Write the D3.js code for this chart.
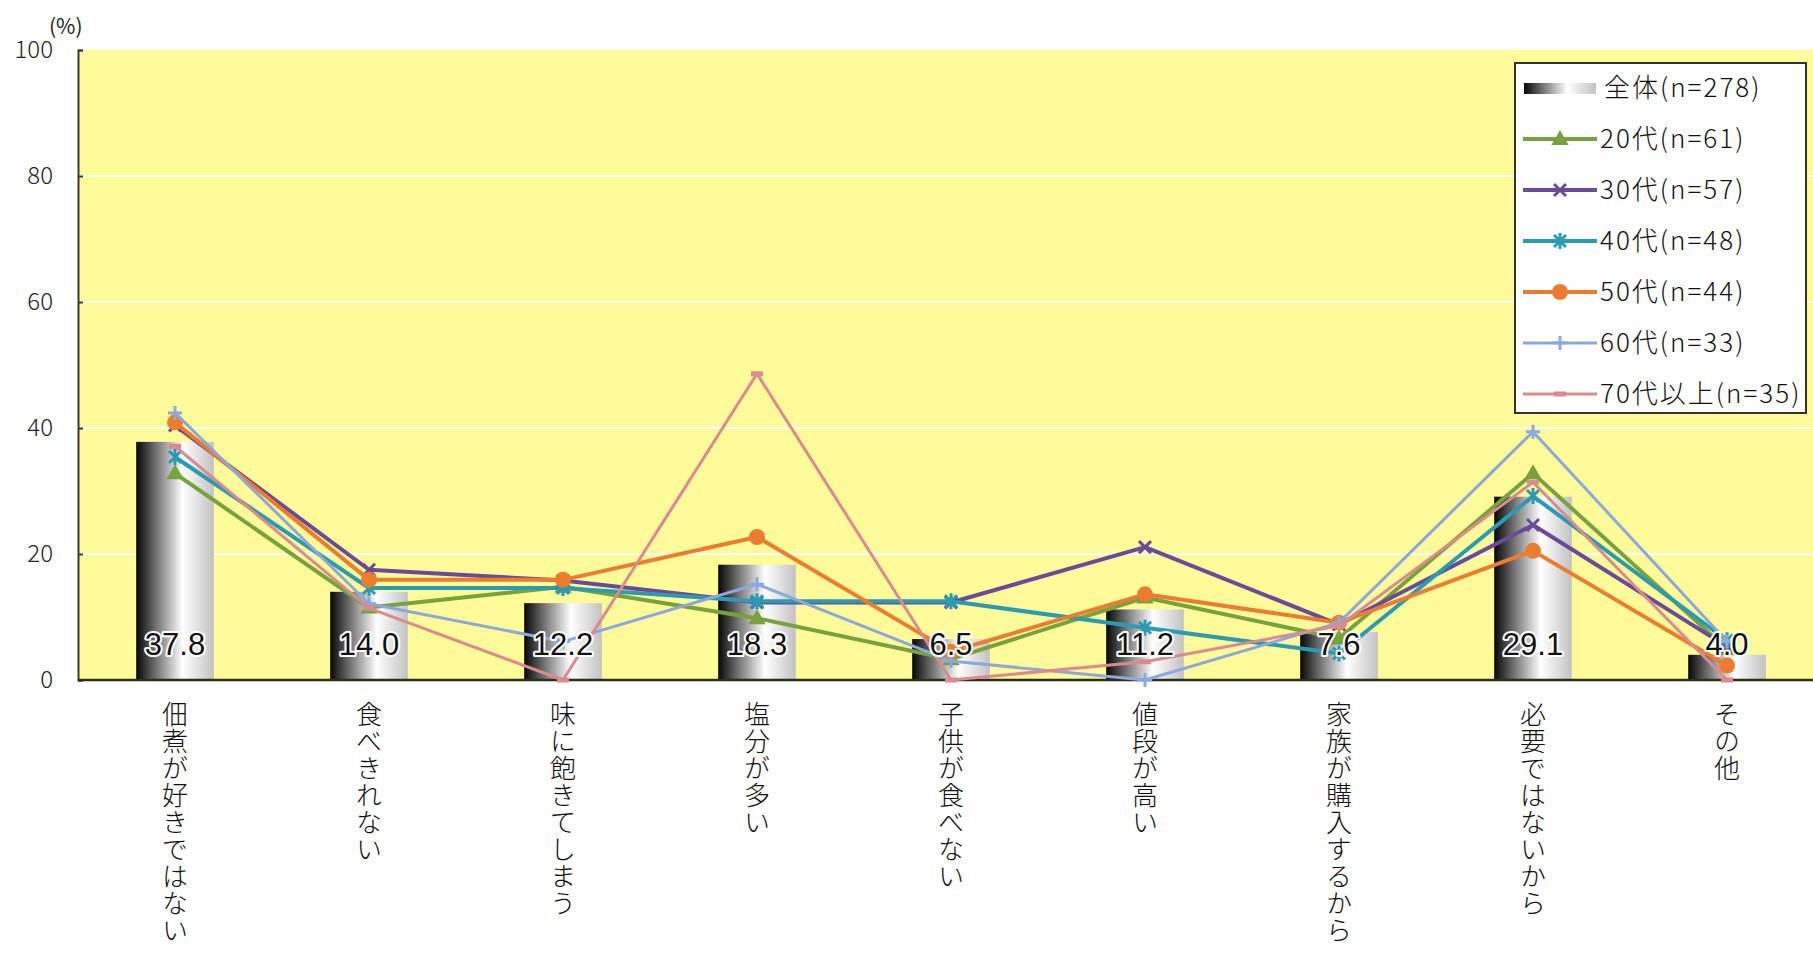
<!DOCTYPE html>
<html>
<head>
<meta charset="utf-8">
<script src="https://cdn.jsdelivr.net/npm/d3@7"></script>
<style>
  html, body { margin: 0; padding: 0; background: #ffffff; }
  svg { display: block; }
</style>
</head>
<body>
<svg id="chart" width="1813" height="956"></svg>
<script>
// Reasons for not buying tsukudani, by age group (%)
const categories = ["佃煮が好きではない", "食べきれない", "味に飽きてしまう", "塩分が多い",
  "子供が食べない", "値段が高い", "家族が購入するから", "必要ではないから", "その他"];

const totalValues = [37.8, 14.0, 12.2, 18.3, 6.5, 11.2, 7.6, 29.1, 4.0];
const age20 = [32.8, 11.5, 14.8, 9.8, 3.3, 13.1, 6.6, 32.8, 4.9];
const age30 = [40.4, 17.5, 15.8, 12.3, 12.3, 21.1, 8.8, 24.6, 5.3];
const age40 = [35.4, 14.6, 14.6, 12.5, 12.5, 8.3, 4.2, 29.2, 6.3];
const age50 = [40.9, 15.9, 15.9, 22.7, 4.5, 13.6, 9.1, 20.5, 2.3];
const age60 = [42.4, 12.1, 6.1, 15.2, 3.0, 0.0, 9.1, 39.4, 6.1];
const age70 = [37.1, 11.4, 0.0, 48.6, 0.0, 2.9, 8.6, 31.4, 0.0];

const totalLabel = "全体(n=278)";
const seriesLabels = ["20代(n=61)", "30代(n=57)", "40代(n=48)", "50代(n=44)", "60代(n=33)", "70代以上(n=35)"];
const seriesValues = [age20, age30, age40, age50, age60, age70];
const seriesColors = ["#78a23e", "#6a4a9b", "#2b9bb4", "#ec7d2f", "#8ea7dc", "#d98b8f"];
const seriesWidths = [4, 4, 4, 4, 3, 3];
const seriesMarkers = ["triangle", "cross", "asterisk", "circle", "plus", "dash"];

const yTicks = [0, 20, 40, 60, 80, 100];

const svg = d3.select("#chart");
const plot = { left: 78, top: 50, bottom: 680, right: 1824 };

const x = d3.scaleBand().domain(categories).range([plot.left, plot.right]).padding(0);
const y = d3.scaleLinear().domain([0, 100]).range([plot.bottom, plot.top]);
const cx = c => x(c) + x.bandwidth() / 2;

// gradient for the overall bars
const defs = svg.append("defs");
const grad = defs.append("linearGradient").attr("id", "barShade")
  .attr("x1", 0).attr("x2", 1).attr("y1", 0).attr("y2", 0);
[[0, "#050505"], [0.28, "#7c7c7c"], [0.6, "#ffffff"], [1, "#c2c2c2"]].forEach(([o, c]) =>
  grad.append("stop").attr("offset", o).attr("stop-color", c));

// plot background
svg.append("rect").attr("x", plot.left).attr("y", plot.top)
  .attr("width", plot.right - plot.left).attr("height", plot.bottom - plot.top)
  .attr("fill", "#fffb99");

// gridlines
svg.append("g").selectAll("line").data(yTicks.filter(t => t > 0 && t < 100)).join("line")
  .attr("x1", plot.left).attr("x2", plot.right)
  .attr("y1", d => y(d)).attr("y2", d => y(d))
  .attr("stroke", "#ffffff").attr("stroke-width", 2);

// bars (overall)
const barW = x.bandwidth() * 0.4;
svg.append("g").selectAll("rect").data(categories).join("rect")
  .attr("x", c => cx(c) - barW / 2)
  .attr("y", (c, i) => y(totalValues[i]))
  .attr("width", barW)
  .attr("height", (c, i) => y(0) - y(totalValues[i]))
  .attr("fill", "url(#barShade)");

// y axis
const yAxis = d3.axisLeft(y).tickValues(yTicks).tickSize(-5).tickPadding(25).tickFormat(d3.format("d"));
const ag = svg.append("g").attr("transform", `translate(${plot.left},0)`).call(yAxis);
ag.select(".domain").attr("stroke", "#3a3a3a").attr("stroke-width", 2);
ag.selectAll(".tick line").attr("stroke", "#3a3a3a").attr("stroke-width", 2);
ag.selectAll(".tick text").attr("fill", "#222").style("font-family", "'Noto Sans CJK JP', sans-serif")
  .style("font-size", "24px").style("font-weight", "300");

svg.append("text").attr("x", 49).attr("y", 34).text("(%)")
  .style("font-family", "'Noto Sans CJK JP', sans-serif").style("font-size", "21px").attr("fill", "#222");

// baseline
svg.append("line").attr("x1", plot.left).attr("x2", plot.right)
  .attr("y1", y(0)).attr("y2", y(0)).attr("stroke", "#2f2f1a").attr("stroke-width", 2.5);

// marker drawing
function drawMarker(g, type, color, px, py) {
  if (type === "triangle") {
    g.append("path").attr("d", d3.symbol(d3.symbolTriangle, 130)()).attr("transform", `translate(${px},${py + 1})`)
      .attr("fill", color);
  } else if (type === "circle") {
    g.append("circle").attr("cx", px).attr("cy", py).attr("r", 8).attr("fill", color);
  } else if (type === "cross") {
    const s = 6;
    g.append("path").attr("d", `M${px - s},${py - s}L${px + s},${py + s}M${px - s},${py + s}L${px + s},${py - s}`)
      .attr("stroke", color).attr("stroke-width", 3).attr("fill", "none");
  } else if (type === "asterisk") {
    const s = 6;
    g.append("path").attr("d", `M${px - s},${py - s}L${px + s},${py + s}M${px - s},${py + s}L${px + s},${py - s}M${px},${py - s - 2}L${px},${py + s + 2}`)
      .attr("stroke", color).attr("stroke-width", 3).attr("fill", "none");
  } else if (type === "plus") {
    const s = 7;
    g.append("path").attr("d", `M${px - s},${py}L${px + s},${py}M${px},${py - s}L${px},${py + s}`)
      .attr("stroke", color).attr("stroke-width", 3).attr("fill", "none");
  } else if (type === "dash") {
    g.append("path").attr("d", `M${px - 6},${py}L${px + 6},${py}`)
      .attr("stroke", color).attr("stroke-width", 5).attr("fill", "none");
  }
}

// age-group lines
const line = d3.line().x((v, i) => cx(categories[i])).y(v => y(v));
const linesG = svg.append("g");
seriesValues.forEach((vals, k) => {
  const g = linesG.append("g");
  g.append("path").datum(vals).attr("d", line)
    .attr("fill", "none").attr("stroke", seriesColors[k]).attr("stroke-width", seriesWidths[k])
    .attr("stroke-linejoin", "round");
  vals.forEach((v, i) => drawMarker(g, seriesMarkers[k], seriesColors[k], cx(categories[i]), y(v)));
});

// value labels for overall bars
svg.append("g").selectAll("text").data(categories).join("text")
  .attr("x", c => cx(c)).attr("y", 655)
  .attr("text-anchor", "middle")
  .style("font-family", "'Liberation Sans', Arial, sans-serif").style("font-size", "31px")
  .attr("fill", "#111").attr("stroke", "#ffffff").attr("stroke-width", 4)
  .attr("paint-order", "stroke").attr("stroke-linejoin", "round")
  .text((c, i) => totalValues[i].toFixed(1));

// vertical category labels
svg.append("g").selectAll("text").data(categories).join("text")
  .attr("transform", c => `translate(${cx(c)},701)`)
  .style("writing-mode", "vertical-rl")
  .style("font-family", "'Noto Sans CJK JP', sans-serif").style("font-size", "26px")
  .style("font-weight", "300")
  .style("letter-spacing", "1px")
  .attr("fill", "#111")
  .text(c => c);

// legend
const lg = svg.append("g");
lg.append("rect").attr("x", 1515).attr("y", 63).attr("width", 291).attr("height", 350)
  .attr("fill", "#ffffff").attr("stroke", "#333").attr("stroke-width", 2);
const rowY = i => 88 + i * 51;
lg.append("rect").attr("x", 1524).attr("y", rowY(0) - 5).attr("width", 72).attr("height", 11)
  .attr("fill", "url(#barShade)");
lg.append("text").attr("x", 1604).attr("y", rowY(0)).attr("dy", "0.35em").text(totalLabel)
  .style("font-family", "'Noto Sans CJK JP', sans-serif").style("font-size", "26px")
  .style("font-weight", "300").style("letter-spacing", "2px").attr("fill", "#111");
seriesLabels.forEach((lab, k) => {
  const ry = rowY(k + 1);
  const g = lg.append("g");
  g.append("line").attr("x1", 1523).attr("x2", 1597).attr("y1", ry).attr("y2", ry)
    .attr("stroke", seriesColors[k]).attr("stroke-width", seriesWidths[k]);
  drawMarker(g, seriesMarkers[k], seriesColors[k], 1560, ry);
  g.append("text").attr("x", 1600).attr("y", ry).attr("dy", "0.35em").text(lab)
    .style("font-family", "'Noto Sans CJK JP', sans-serif").style("font-size", "26px")
    .style("font-weight", "300").style("letter-spacing", "2px").attr("fill", "#111");
});
</script>
</body>
</html>
